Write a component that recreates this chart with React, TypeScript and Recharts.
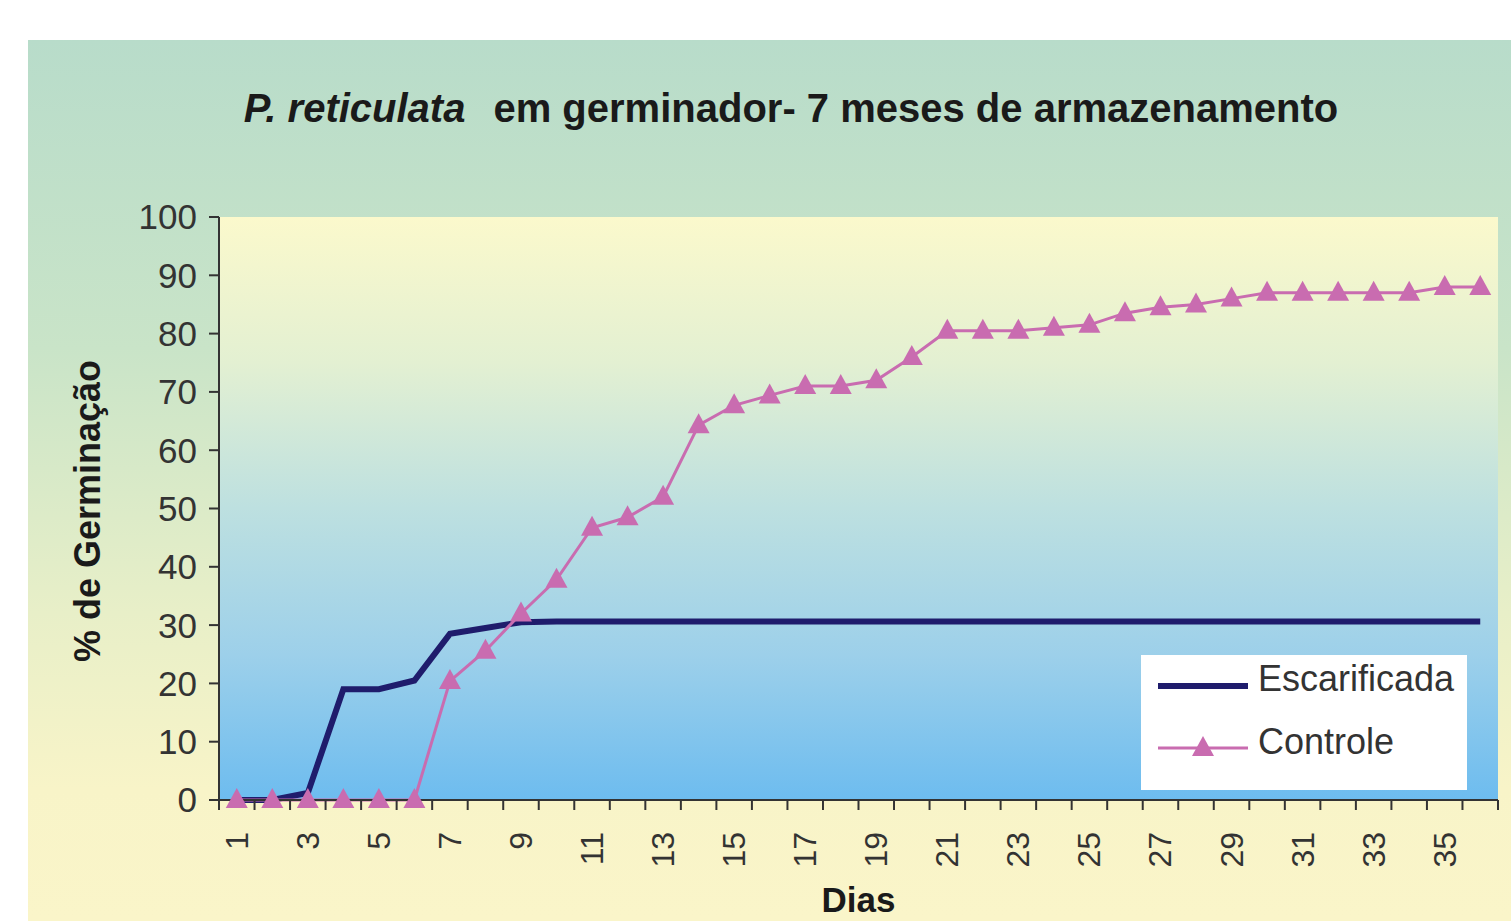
import { CartesianGrid, Label, Legend, Line, LineChart, XAxis, YAxis } from "recharts";

const DIAS = Array.from({ length: 36 }, (_, i) => String(i + 1));

const ESCARIFICADA = [
  0, 0, 1.2, 19, 19, 20.5, 28.5, 29.5, 30.5, 30.6, 30.6, 30.6, 30.6, 30.6, 30.6, 30.6, 30.6, 30.6,
  30.6, 30.6, 30.6, 30.6, 30.6, 30.6, 30.6, 30.6, 30.6, 30.6, 30.6, 30.6, 30.6, 30.6, 30.6, 30.6, 30.6, 30.6,
];

const CONTROLE = [
  0, 0, 0, 0, 0, 0, 20.4, 25.6, 32, 37.8, 46.7, 48.5, 52, 64.3, 67.7, 69.4, 71, 71,
  72, 76, 80.5, 80.5, 80.5, 81, 81.5, 83.5, 84.5, 85, 86, 87, 87, 87, 87, 87, 88, 88,
];

const Y_TICKS = [0, 10, 20, 30, 40, 50, 60, 70, 80, 90, 100];

const data = DIAS.map((dia, i) => ({ dia, escarificada: ESCARIFICADA[i], controle: CONTROLE[i] }));

const W = 1511;
const H = 921;
const PLOT_LEFT = 219;
const PLOT_RIGHT = 1498;
const PLOT_TOP = 217;
const PLOT_BOTTOM = 800;
const BAND = (PLOT_RIGHT - PLOT_LEFT) / DIAS.length;

const FONT = '"Liberation Sans", Arial, sans-serif';
const NAVY = "#1f1c6c";
const PINK = "#c96cb0";
const TEXT = "#333";

function DayTick(props: any) {
  const { x, y, index, payload } = props;
  const left = x - BAND / 2;
  const ly = y + 24;
  return (
    <g>
      <line x1={left} y1={y - 8} x2={left} y2={y + 2} stroke={TEXT} strokeWidth={2} />
      {index === DIAS.length - 1 && (
        <line x1={x + BAND / 2} y1={y - 8} x2={x + BAND / 2} y2={y + 2} stroke={TEXT} strokeWidth={2} />
      )}
      {index % 2 === 0 && (
        <text
          x={x}
          y={ly}
          transform={`rotate(-90, ${x}, ${ly})`}
          textAnchor="end"
          dominantBaseline="central"
          fill={TEXT}
          fontSize={32}
          fontFamily={FONT}
        >
          {payload.value}
        </text>
      )}
    </g>
  );
}

function Triangle(props: any) {
  const { cx, cy } = props;
  if (cx == null || cy == null) return null;
  return <path d={`M${cx},${cy - 12} L${cx - 11},${cy + 8} L${cx + 11},${cy + 8} Z`} fill={PINK} />;
}

function LegendBox() {
  return (
    <div style={{ position: "relative", width: 326, height: 135, background: "#fff", fontFamily: FONT }}>
      <svg width={110} height={135} style={{ position: "absolute", left: 0, top: 0 }}>
        <line x1={17} y1={31} x2={107} y2={31} stroke={NAVY} strokeWidth={6} />
        <line x1={17} y1={93} x2={107} y2={93} stroke={PINK} strokeWidth={3} />
        <path d="M62,81 L51,101 L73,101 Z" fill={PINK} />
      </svg>
      <div style={{ position: "absolute", left: 117, top: 4, fontSize: 36, color: TEXT, lineHeight: "40px" }}>
        Escarificada
      </div>
      <div style={{ position: "absolute", left: 117, top: 67, fontSize: 36, color: TEXT, lineHeight: "40px" }}>
        Controle
      </div>
    </div>
  );
}

export default function App() {
  return (
    <div style={{ position: "absolute", left: 0, top: 0, width: W, height: H, background: "#fff", overflow: "hidden" }}>
      <div
        style={{
          position: "absolute",
          left: 28,
          top: 40,
          right: 0,
          bottom: 0,
          background: "linear-gradient(to bottom, #b8dcca 0%, #c9e4c8 35%, #e8efc8 65%, #f8f4c8 85%, #faf5c9 100%)",
        }}
      />
      <div
        style={{
          position: "absolute",
          left: 0,
          width: W,
          top: 88,
          textAlign: "center",
          fontFamily: FONT,
          fontWeight: "bold",
          fontSize: 40,
          lineHeight: "40px",
          color: "#1a1a1a",
          paddingLeft: 71,
          boxSizing: "border-box",
          whiteSpace: "nowrap",
        }}
      >
        <span style={{ fontStyle: "italic" }}>P. reticulata</span>
        <span style={{ marginLeft: 28 }}>em germinador- 7 meses de armazenamento</span>
      </div>
      <div style={{ position: "absolute", left: 0, top: 0 }}>
        <LineChart
          width={W}
          height={H}
          data={data}
          margin={{ top: PLOT_TOP, right: W - PLOT_RIGHT, bottom: 0, left: 40 }}
        >
          <defs>
            <linearGradient id="plotBg" x1="0" y1="0" x2="0" y2="1">
              <stop offset="0%" stopColor="#fbf9cc" />
              <stop offset="25%" stopColor="#e3f0d2" />
              <stop offset="50%" stopColor="#bde0e0" />
              <stop offset="75%" stopColor="#9dd0ea" />
              <stop offset="100%" stopColor="#6dbcef" />
            </linearGradient>
          </defs>
          <CartesianGrid horizontal={false} vertical={false} fill="url(#plotBg)" />
          <XAxis
            dataKey="dia"
            type="category"
            scale="band"
            interval={0}
            height={H - PLOT_BOTTOM}
            axisLine={{ stroke: TEXT, strokeWidth: 2 }}
            tickLine={false}
            tick={<DayTick />}
          >
            <Label
              value="Dias"
              position="insideBottom"
              offset={9}
              fill="#1a1a1a"
              fontSize={35}
              fontWeight="bold"
              fontFamily={FONT}
            />
          </XAxis>
          <YAxis
            width={PLOT_LEFT - 40}
            domain={[0, 100]}
            ticks={Y_TICKS}
            interval={0}
            axisLine={{ stroke: TEXT, strokeWidth: 2 }}
            tickLine={{ stroke: TEXT, strokeWidth: 2 }}
            tickSize={10}
            tickMargin={12}
            tick={{ fill: TEXT, fontSize: 35, fontFamily: FONT }}
          >
            <Label
              content={() => (
                <text
                  x={87}
                  y={511}
                  transform="rotate(-90, 87, 511)"
                  textAnchor="middle"
                  dominantBaseline="central"
                  fill="#1a1a1a"
                  fontSize={36}
                  fontWeight="bold"
                  fontFamily={FONT}
                >
                  % de Germinação
                </text>
              )}
            />
          </YAxis>
          <Legend
            layout="vertical"
            align="center"
            verticalAlign="middle"
            wrapperStyle={{ left: 1141, top: 655, width: 326, height: 135 }}
            content={() => <LegendBox />}
          />
          <Line
            type="linear"
            dataKey="escarificada"
            name="Escarificada"
            stroke={NAVY}
            strokeWidth={6}
            dot={false}
            isAnimationActive={false}
          />
          <Line
            type="linear"
            dataKey="controle"
            name="Controle"
            stroke={PINK}
            strokeWidth={3}
            dot={<Triangle />}
            isAnimationActive={false}
          />
        </LineChart>
      </div>
    </div>
  );
}
